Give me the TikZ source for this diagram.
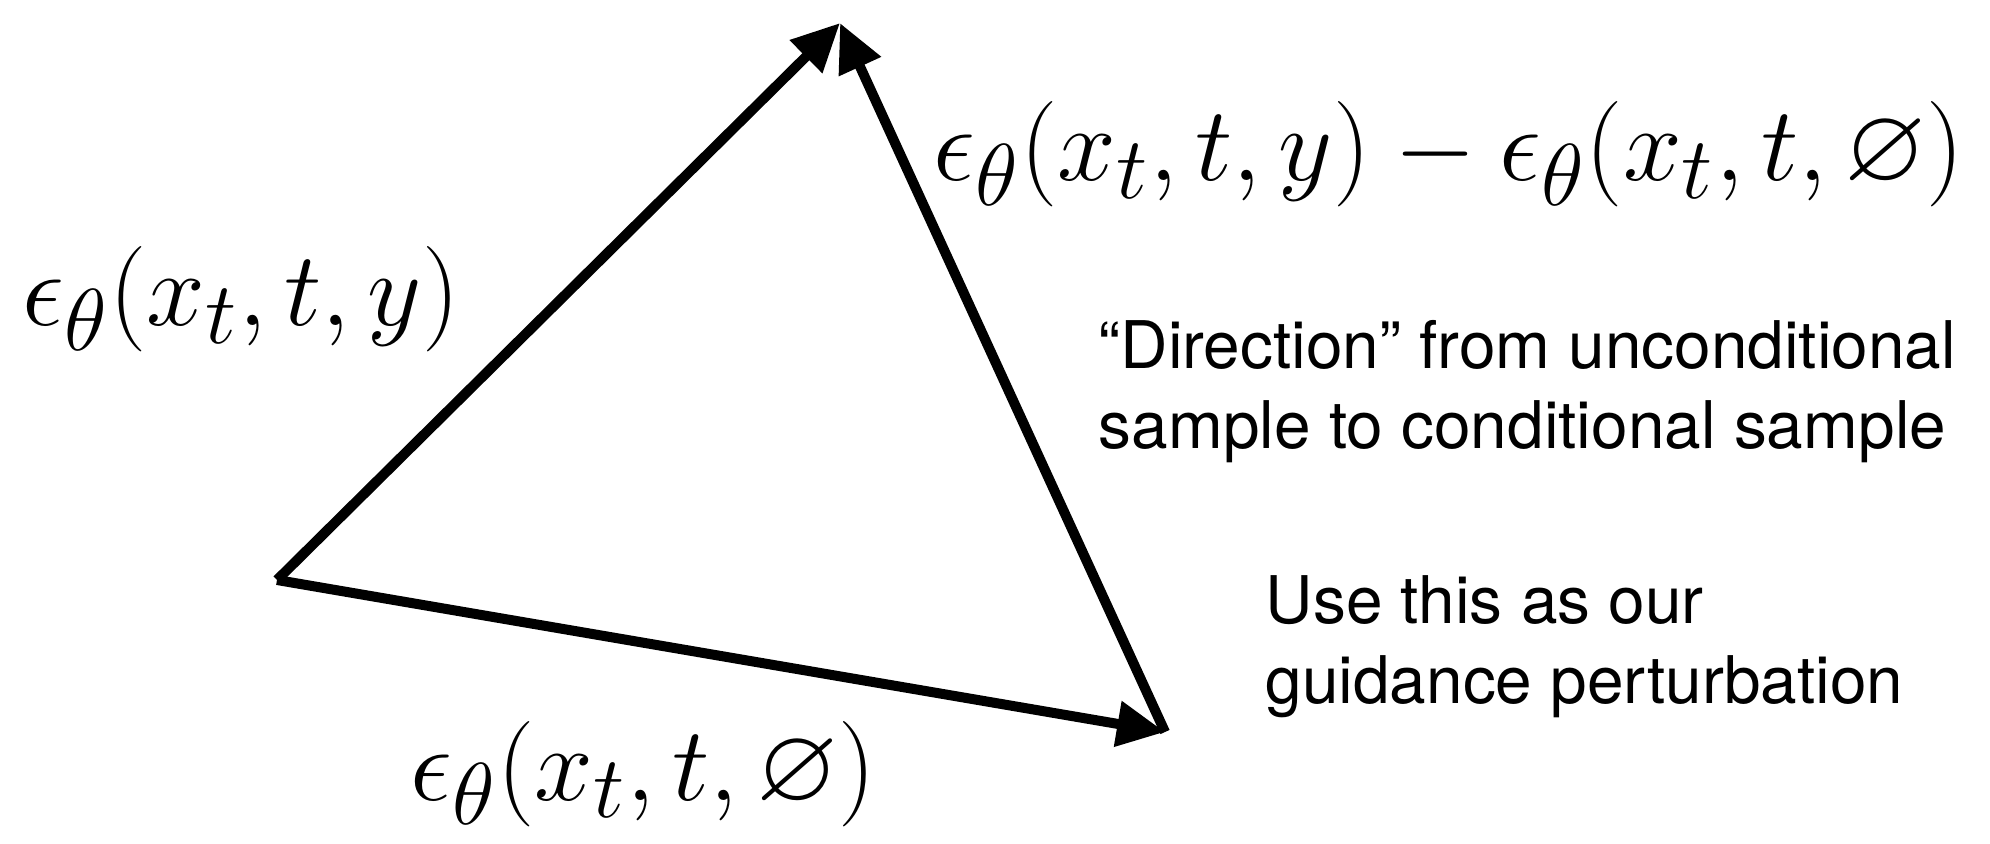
\documentclass[tikz,border=0pt]{standalone}
\usepackage{amsmath,amssymb}
\usepackage{fontspec}
\newfontfamily\notefont[Ligatures=TeX]{TeX Gyre Heros}
\usetikzlibrary{arrows.meta,calc}
\tikzset{
  vec/.style={
    line width=1mm,
    -{Triangle[length=4.8mm,width=4.4mm]},
  },
  eps/.style={
    inner sep=0,
    anchor=base west,
    scale=1.206,
    font=\Huge
  },
  note/.style={
    inner sep=0,
    anchor=north west,
    align=left,
    font=\notefont\fontsize{18.7}{22.7}\selectfont
  }
}

\begin{document}
\begin{tikzpicture}
        \useasboundingbox (0,0) rectangle (19.9,8.43);
        \coordinate (o) at (2.77,2.63);
        \coordinate (up) at (8.4,8.2);
        \coordinate (dn) at (11.65,1.11);
        \draw[vec] (o)--(up);
        \draw[vec] (o)--(dn);
        \draw[vec] (dn)--(up);
        \node[eps] (cond) at (0.22,5.17) {$\epsilon_\theta(x_t,t,y)$};
        \node[eps] (uncond) at (4.1,0.43) {$\epsilon_\theta(x_t,t,\varnothing)$};
        \node[eps] (diff) at (9.33,6.62) {$\epsilon_\theta(x_t,t,y)-\epsilon_\theta(x_t,t,\varnothing)$};
        \node[note] (dir) at (10.98,5.23) {“Direction” from unconditional\\sample to conditional sample};
        \node[note] (use) at (12.65,2.68) {Use this as our\\guidance perturbation};
    \end{tikzpicture}
\end{document}
